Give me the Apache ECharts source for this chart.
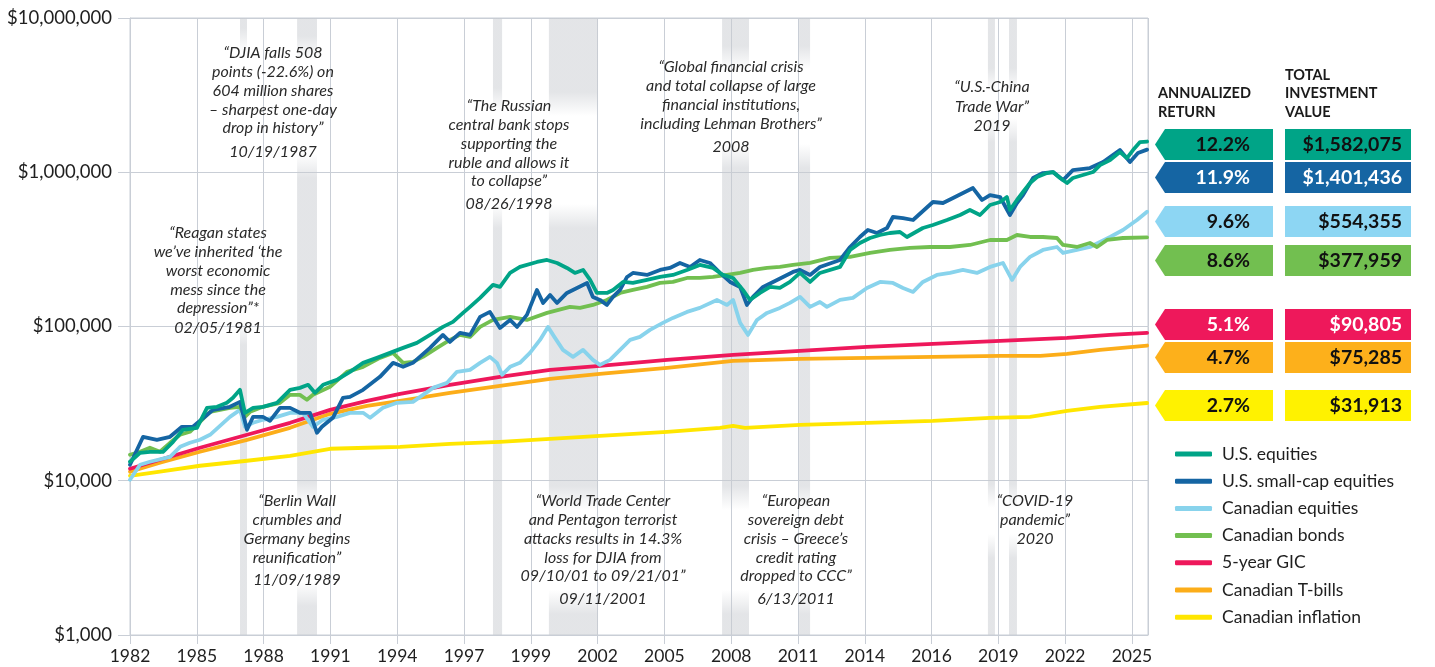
<!DOCTYPE html>
<html><head><meta charset="utf-8">
<script src="https://cdn.jsdelivr.net/npm/echarts@6/dist/echarts.min.js"></script>
<style>html,body{margin:0;padding:0;background:#fff}#c{width:1435px;height:667px}</style>
</head><body><div id="c"></div><script>
// ---------------- DATA ----------------
const tickLabels = ['1982','1985','1988','1991','1994','1997','1999','2002','2005','2008','2011','2014','2016','2019','2022','2025'];
const seriesNames = ['U.S. equities','U.S. small-cap equities','Canadian equities','Canadian bonds','5-year GIC','Canadian T-bills','Canadian inflation'];
const annualizedReturns = ['12.2%','11.9%','9.6%','8.6%','5.1%','4.7%','2.7%'];
const totalValues = ['$1,582,075','$1,401,436','$554,355','$377,959','$90,805','$75,285','$31,913'];

const usEquities = [[1982.0,13280],[1982.43,15180],[1982.85,15410],[1983.41,15410],[1983.84,17890],[1984.26,21400],[1984.86,22040],[1985.29,29700],[1985.72,30150],[1986.14,32000],[1986.40,34480],[1986.70,38850],[1986.91,27570],[1987.26,29700],[1987.68,30150],[1988.28,32000],[1988.84,38850],[1989.26,40020],[1989.61,41860],[1989.90,37150],[1990.25,41860],[1990.84,45100],[1991.40,50820],[1991.96,58120],[1992.55,62620],[1993.11,67470],[1993.67,72680],[1994.26,78310],[1994.82,88220],[1995.37,99410],[1995.80,107100],[1996.23,122500],[1996.53,134000],[1996.96,153200],[1997.51,186000],[1997.81,180500],[1998.24,222400],[1998.66,243300],[1999.39,262100],[1999.82,270000],[2000.25,258200],[2000.67,239700],[2001.01,222400],[2001.36,232600],[2001.66,200400],[2001.95,165000],[2002.38,165000],[2002.64,172600],[2003.07,194500],[2003.49,191600],[2004.09,200400],[2004.65,209500],[2005.20,215900],[2005.80,232600],[2006.35,250600],[2006.91,239700],[2007.34,215900],[2007.77,206400],[2008.19,172600],[2008.49,148700],[2008.92,165000],[2009.35,180500],[2009.77,177800],[2010.20,194500],[2010.63,222400],[2011.06,194500],[2011.48,222400],[2012.34,243300],[2012.77,313400],[2013.19,347900],[2013.62,374800],[2014.05,391900],[2014.47,403800],[2014.90,409800],[2015.20,380500],[2015.88,435000],[2016.31,454900],[2016.91,490200],[2017.47,528300],[2017.89,569200],[2018.32,528300],[2018.75,613300],[2019.18,641300],[2019.47,690900],[2019.60,569200],[2019.90,660700],[2020.16,744400],[2020.46,851300],[2020.76,930900],[2021.18,988200],[2021.44,1003000],[2021.74,917100],[2022.04,851300],[2022.29,917100],[2022.72,959100],[2023.15,1003000],[2023.45,1113000],[2023.88,1199000],[2024.30,1351000],[2024.60,1236000],[2024.86,1393000],[2025.16,1569000],[2025.46,1582075]];

const usSmallCap = [[1982.0,12700],[1982.56,19270],[1983.15,18430],[1983.71,19270],[1984.22,22370],[1984.69,22370],[1985.55,28830],[1986.27,30150],[1986.70,32480],[1987.00,21400],[1987.26,25970],[1987.68,25970],[1987.98,24470],[1988.41,29700],[1988.84,29700],[1989.26,27570],[1989.69,27570],[1989.99,20460],[1990.20,22370],[1990.67,25590],[1991.10,34480],[1991.40,35000],[1991.96,38850],[1992.68,47160],[1993.24,58120],[1993.67,54750],[1994.09,58120],[1994.82,72680],[1995.37,88220],[1995.67,79480],[1996.10,90890],[1996.53,88220],[1996.96,115400],[1997.38,124300],[1997.81,97940],[1998.24,110300],[1998.54,99410],[1998.96,118900],[1999.39,172600],[1999.65,142200],[1999.95,160200],[2000.25,142200],[2000.67,165000],[2001.53,191600],[2001.78,155500],[2002.08,148700],[2002.38,138000],[2002.64,155500],[2002.94,172600],[2003.24,209500],[2003.49,222400],[2004.09,215900],[2004.65,232600],[2005.07,239700],[2005.50,258200],[2005.93,243300],[2006.35,270000],[2006.78,258200],[2007.21,222400],[2007.64,194500],[2008.07,180500],[2008.36,138000],[2008.62,155500],[2009.05,180500],[2009.48,194500],[2010.33,225800],[2010.63,232600],[2011.06,215900],[2011.48,243300],[2012.34,270000],[2012.77,327700],[2013.19,380500],[2013.53,422300],[2013.92,403800],[2014.35,435000],[2014.60,512700],[2015.03,505000],[2015.46,490200],[2016.31,641300],[2016.74,631800],[2017.17,680700],[2018.02,790100],[2018.41,660700],[2018.75,711700],[2019.18,690900],[2019.60,528300],[2019.90,631800],[2020.16,711700],[2020.59,917100],[2021.01,988200],[2021.44,1003000],[2021.87,890200],[2022.29,1033000],[2023.02,1065000],[2023.58,1164000],[2024.00,1292000],[2024.30,1393000],[2024.73,1164000],[2025.07,1331000],[2025.46,1401436]];

const canadianEquities = [[1982.0,10150],[1982.43,12700],[1982.85,13280],[1983.71,14300],[1984.14,16600],[1984.56,17620],[1984.99,18430],[1985.42,19860],[1986.27,25970],[1986.70,28830],[1986.91,22370],[1987.26,23750],[1987.68,24840],[1988.28,25970],[1988.84,27570],[1989.39,27570],[1989.82,22370],[1990.25,24840],[1990.84,25970],[1991.40,27570],[1991.96,27570],[1992.26,25590],[1992.81,29700],[1993.41,32000],[1994.09,32480],[1994.95,40020],[1995.55,43120],[1995.97,50820],[1996.53,52350],[1996.96,58120],[1997.38,63560],[1997.68,58120],[1997.90,48590],[1998.24,54750],[1998.66,58120],[1999.09,67470],[1999.52,81890],[1999.86,99410],[2000.16,84370],[2000.50,70560],[2000.93,63560],[2001.36,70560],[2001.78,60780],[2002.08,56410],[2002.51,60780],[2002.94,70560],[2003.37,81890],[2003.79,85630],[2004.22,95060],[2004.77,105500],[2005.20,113700],[2005.80,124300],[2006.35,132000],[2007.08,148700],[2007.51,138000],[2007.77,148700],[2008.07,105500],[2008.41,88220],[2008.79,110300],[2009.22,122500],[2009.77,132000],[2010.20,142200],[2010.63,155500],[2011.06,134000],[2011.48,144300],[2011.78,134000],[2012.34,148700],[2012.89,153200],[2013.49,177800],[2014.05,194500],[2014.60,191600],[2015.03,177800],[2015.46,167500],[2015.88,194500],[2016.48,215900],[2017.04,222400],[2017.59,232600],[2018.19,222400],[2018.75,243300],[2019.30,258200],[2019.69,200400],[2020.03,243300],[2020.46,282400],[2021.01,313400],[2021.61,327700],[2021.87,299700],[2022.46,313400],[2023.02,327700],[2023.88,380500],[2024.43,422300],[2025.03,490200],[2025.46,554355]];

const canadianBonds = [[1982.0,14740],[1982.43,15410],[1982.85,16360],[1983.28,15410],[1983.71,17620],[1984.14,19860],[1984.56,20770],[1985.42,27980],[1986.27,29700],[1986.70,30150],[1986.91,25970],[1987.13,27980],[1987.68,30150],[1988.41,32000],[1988.84,36060],[1989.26,36060],[1989.56,33470],[1989.82,36060],[1990.55,40630],[1991.27,50820],[1991.96,54750],[1992.68,62620],[1993.24,67470],[1993.67,58120],[1994.09,58990],[1994.52,63560],[1995.12,72680],[1995.67,81890],[1996.10,88220],[1996.53,85630],[1996.96,99410],[1997.51,110300],[1998.24,115400],[1998.96,110300],[1999.82,122500],[2000.80,134000],[2001.23,132000],[2001.78,138000],[2002.38,148700],[2002.94,165000],[2003.49,172600],[2004.09,180500],[2004.65,191600],[2005.20,194500],[2005.80,206400],[2006.35,206400],[2006.91,209500],[2007.51,215900],[2008.07,222400],[2008.62,232600],[2009.22,239700],[2009.77,243300],[2010.33,250600],[2011.06,258200],[2011.91,278200],[2012.77,282400],[2013.62,299700],[2014.47,313400],[2015.33,322900],[2016.18,327700],[2017.04,327700],[2017.89,337700],[2018.75,363800],[2019.47,363800],[2019.90,391900],[2020.46,380500],[2021.01,380500],[2021.61,374800],[2021.87,337700],[2022.46,327700],[2023.02,347900],[2023.32,327700],[2023.75,363800],[2024.43,374800],[2025.46,377959]];

const gic5yr = [[1982.0,11960],[1983.28,13680],[1984.99,16360],[1987.00,19860],[1988.84,23750],[1990.55,28830],[1992.13,32970],[1993.54,36600],[1995.67,41860],[1997.81,47160],[1999.95,52350],[2002.08,55570],[2004.95,60780],[2007.77,65480],[2010.63,69510],[2013.49,73770],[2016.31,77150],[2019.18,80670],[2022.04,84370],[2023.88,88220],[2025.46,90805]];

const tBills = [[1982.0,11440],[1983.28,13080],[1984.99,15410],[1987.00,18430],[1988.84,22040],[1990.55,27160],[1992.13,30600],[1993.54,32970],[1995.67,37150],[1997.81,41240],[1999.95,45780],[2002.08,49320],[2004.95,53940],[2007.77,59880],[2010.63,61690],[2013.49,62620],[2016.31,63560],[2019.18,64510],[2020.90,64510],[2022.04,66470],[2023.45,70560],[2025.46,75285]];

const inflation = [[1982.0,10770],[1983.28,11440],[1984.99,12510],[1987.00,13480],[1988.84,14520],[1990.55,16120],[1992.13,16360],[1993.54,16600],[1995.67,17360],[1997.81,17890],[1999.95,18710],[2002.08,19560],[2004.95,20770],[2007.21,22040],[2007.77,22710],[2008.28,22040],[2010.63,23050],[2013.49,23750],[2016.31,24470],[2018.75,25590],[2020.46,25970],[2022.04,28400],[2023.45,30150],[2025.46,31913]];

const eventBandStarts = [1986.70, 1989.14, 1997.51, 1999.90, 2007.30, 2010.59, 2018.66, 2019.56];
const eventBandEnds   = [1987.00, 1989.99, 1997.90, 2002.00, 2008.45, 2011.06, 2018.96, 2019.90];

const annotationQuotes = [
  '“DJIA falls 508\npoints (-22.6%) on\n604 million shares\n– sharpest one-day\ndrop in history”',
  '“Reagan states\nwe’ve inherited ‘the\nworst economic\nmess since the\ndepression”*',
  '“The Russian\ncentral bank stops\nsupporting the\nruble and allows it\nto collapse”',
  '“Global financial crisis\nand total collapse of large\nfinancial institutions,\nincluding Lehman Brothers”',
  '“U.S.-China\nTrade War”\n2019',
  '“Berlin Wall\ncrumbles and\nGermany begins\nreunification”',
  '“World Trade Center\nand Pentagon terrorist\nattacks results in 14.3%\nloss for DJIA from\n09/10/01 to 09/21/01”',
  '“European\nsovereign debt\ncrisis – Greece’s\ncredit rating\ndropped to CCC”',
  '“COVID-19\npandemic”\n2020'
];
const annotationDates = ['10/19/1987','02/05/1981','08/26/1998','2008','','11/09/1989','09/11/2001','6/13/2011',''];

// ---------------- STYLE / LAYOUT ----------------
const seriesData = [usEquities, usSmallCap, canadianEquities, canadianBonds, gic5yr, tBills, inflation];
const colors = ['#00a487','#1565a3','#88d3ec','#72bf50','#ee185b','#fcad19','#ffe600'];
const boxColors = ['#00a487','#1565a3','#8dd6f3','#72bf50','#ee185b','#fdb01b','#fff200'];
const boxTextColors = ['#111','#fff','#111','#111','#fff','#111','#111'];
const rowTops = [129, 162, 206, 245, 309, 342, 390];
const drawOrder = [6,5,4,2,3,1,0];

const gridTop = 18, gridH = 617;
const bandFades = [
  [[28,345]],
  [[36,178],[482,606]],
  [[88,228]],
  [[92,228],[486,614]],
  [[46,168],[486,614]],
  [[46,168],[486,614]],
  [[68,142],[484,558]],
  [[68,142],[484,558]]
];
const annoLayout = [
  {cx:273, y:53, lh:18.8, dy:152},
  {cx:218, y:233, lh:18.8, dy:328},
  {cx:509, y:106, lh:18.8, dy:204},
  {cx:731, y:67, lh:18.8, dy:147},
  {cx:992, y:87, lh:19.5},
  {cx:297, y:501, lh:18.8, dy:580},
  {cx:603, y:501, lh:18.8, dy:599},
  {cx:796, y:501, lh:18.8, dy:599},
  {cx:1035, y:501, lh:19}
];

const GRAY = 'rgba(200,203,208,0.5)', CLEAR = 'rgba(200,203,208,0)';
function bandGradient(zones){
  const off = y => Math.max(0, Math.min(1, (y - gridTop) / gridH));
  const e = 24;
  const stops = [{offset:0, color:GRAY}];
  zones.forEach(([a,b]) => {
    stops.push({offset:off(a), color:GRAY});
    stops.push({offset:off(a+e), color:CLEAR});
    stops.push({offset:off(b-e), color:CLEAR});
    stops.push({offset:off(b), color:GRAY});
  });
  stops.push({offset:1, color:GRAY});
  return {type:'linear', x:0, y:0, x2:0, y2:1, colorStops:stops};
}
const bandData = eventBandStarts.map((s,i) => [
  {xAxis:s, itemStyle:{color:bandGradient(bandFades[i])}},
  {xAxis:eventBandEnds[i]}
]);

const FONT = 'Lato';
const series = drawOrder.map((k, idx) => ({
  name: seriesNames[k], type:'line', data: seriesData[k], xAxisIndex:0, yAxisIndex:0,
  showSymbol:false, symbol:'none', smooth:false,
  lineStyle:{color:colors[k], width:3.8, cap:'round', join:'round'},
  itemStyle:{color:colors[k]},
  emphasis:{disabled:true},
  markArea: idx === 0 ? {silent:true, data: bandData} : undefined
}));

const ANNO_FONT = 'italic 16px ' + FONT;
const graphics = [];
annotationQuotes.forEach((t,i) => {
  const L = annoLayout[i];
  graphics.push({type:'text', x:L.cx, y:L.y - L.lh/2, silent:true, z:5,
    style:{text:t, fill:'#2a2a2a', font:ANNO_FONT, textAlign:'center', textVerticalAlign:'top', lineHeight:L.lh}});
  if (annotationDates[i]) graphics.push({type:'text', x:L.cx, y:L.dy, silent:true, z:5,
    style:{text:annotationDates[i], fill:'#2a2a2a', font:ANNO_FONT, textAlign:'center', textVerticalAlign:'middle'}});
});
graphics.push({type:'text', x:1158, y:84, silent:true,
  style:{text:'ANNUALIZED\nRETURN', fill:'#1a1a1a', font:'bold 14.5px '+FONT, textAlign:'left', textVerticalAlign:'top', lineHeight:19}});
graphics.push({type:'text', x:1285, y:66, silent:true,
  style:{text:'TOTAL\nINVESTMENT\nVALUE', fill:'#1a1a1a', font:'bold 14.5px '+FONT, textAlign:'left', textVerticalAlign:'top', lineHeight:18.5}});
const bh = 31;
annualizedReturns.forEach((r,i) => {
  const t = rowTops[i], m = t + bh/2;
  graphics.push({type:'polygon', silent:true, shape:{points:[[1165,t],[1273,t],[1273,t+bh],[1165,t+bh],[1155,m]]}, style:{fill:boxColors[i]}});
  graphics.push({type:'text', x:1250, y:m, silent:true, style:{text:r, fill:boxTextColors[i], font:'bold 19.5px '+FONT, textAlign:'right', textVerticalAlign:'middle'}});
  graphics.push({type:'rect', silent:true, shape:{x:1285, y:t, width:126, height:bh}, style:{fill:boxColors[i]}});
  graphics.push({type:'text', x:1402, y:m, silent:true, style:{text:totalValues[i], fill:boxTextColors[i], font:'bold 19.5px '+FONT, textAlign:'right', textVerticalAlign:'middle'}});
});

const GRID = '#c9ced6';
const option = {
  animation:false,
  backgroundColor:'#fff',
  textStyle:{fontFamily:FONT},
  grid:{left:130, right:287, top:gridTop, bottom:32, show:true, borderColor:GRID, borderWidth:1, containLabel:false},
  legend:{data:seriesNames, orient:'vertical', left:1170, top:439, icon:'roundRect', itemWidth:37, itemHeight:5, itemGap:7.2,
    selectedMode:false, textStyle:{fontSize:17.5, fontFamily:FONT, color:'#1f1f1f', lineHeight:20, padding:[0,0,0,5]}},
  xAxis:[
    {type:'value', min:1982, max:2025.5, show:false, position:'top', gridIndex:0},
    {type:'value', min:0, max:15.24, interval:1, position:'bottom', gridIndex:0,
      axisLine:{show:true, lineStyle:{color:GRID}},
      axisTick:{show:true, length:9, lineStyle:{color:GRID}},
      splitLine:{show:true, lineStyle:{color:GRID, width:1}},
      axisLabel:{margin:12, fontSize:17.5, color:'#1f1f1f', fontFamily:FONT, showMaxLabel:false,
        formatter:v => (Math.abs(v - Math.round(v)) < 1e-6 ? (tickLabels[Math.round(v)] || '') : '')}}
  ],
  yAxis:[{type:'log', logBase:10, min:1000, max:10000000,
    axisLine:{show:true, lineStyle:{color:GRID}},
    axisTick:{show:true, length:12, lineStyle:{color:GRID}},
    splitLine:{show:true, lineStyle:{color:GRID, width:1}},
    minorTick:{show:false},
    axisLabel:{margin:18, fontSize:18.5, color:'#1f1f1f', fontFamily:FONT,
      formatter:v => '$' + Math.round(v).toLocaleString('en-US')}}],
  series: series,
  graphic: graphics
};
const chart = echarts.init(document.getElementById('c'), null, {renderer:'canvas'});
chart.setOption(option);
</script></body></html>
